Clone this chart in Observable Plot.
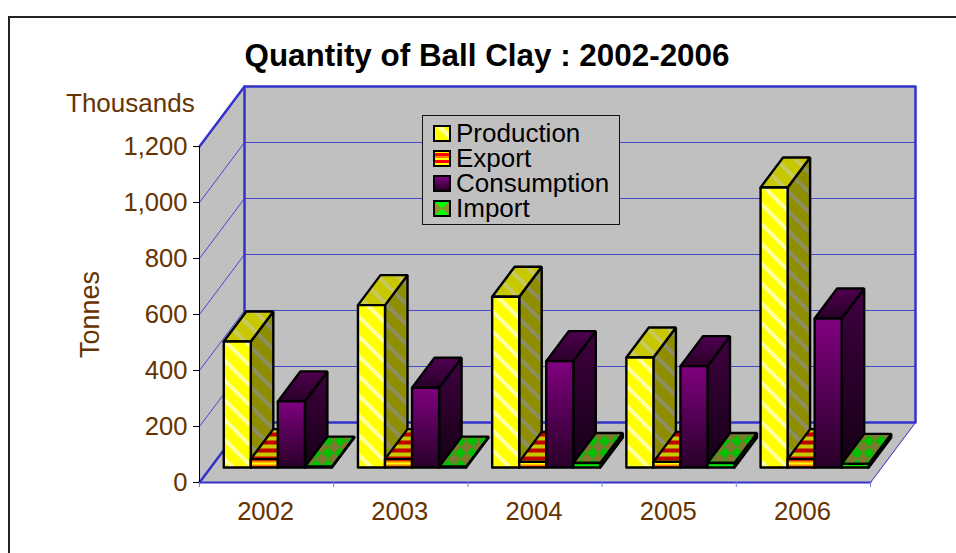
<!DOCTYPE html>
<html>
<head>
<meta charset="utf-8">
<script src="https://cdn.jsdelivr.net/npm/d3@7"></script>
<script src="https://cdn.jsdelivr.net/npm/@observablehq/plot@0.6"></script>
<style>
html,body{margin:0;padding:0;background:#fff;}
#page{position:relative;width:956px;height:553px;overflow:hidden;font-family:"Liberation Sans",Arial,sans-serif;}
#frame{position:absolute;left:8px;top:16px;width:960px;height:560px;border:2px solid #222;box-sizing:border-box;}
#title{position:absolute;left:0;top:40px;width:974px;text-align:center;font-size:31.4px;font-weight:bold;color:#000;line-height:32px;}
#chart{position:absolute;left:0;top:0;}
#unit{position:absolute;left:66px;top:89px;font-size:26px;line-height:28px;color:#663300;}
#legend{position:absolute;left:422px;top:115px;width:198px;height:110px;box-sizing:border-box;border:1px solid #111;border-right-width:1.5px;border-bottom-width:1.5px;background:#c0c0c0;padding:5px 0 0 10px;}
.row{display:flex;align-items:center;height:25px;font-size:26px;color:#000;}
.row span{display:block;line-height:25px;height:25px;overflow:visible;}
.sw{width:14px;height:13px;border:2.5px solid #000;margin-right:5px;box-sizing:content-box;flex:none;}
.sw svg{display:block;}
</style>
</head>
<body>
<div id="page">
<div id="frame"></div>
<div id="title">Quantity of Ball Clay : 2002-2006</div>
<div id="chart"></div>
<div id="unit">Thousands</div>
<div id="legend"></div>
</div>
<script>
const years = ["2002","2003","2004","2005","2006"];
const seriesNames = ["Production","Export","Consumption","Import"];
const production = [450,580,610,393,1000];
const exportQty = [30,30,20,20,30];
const consumption = [236,285,380,362,532];
const importQty = [3,3,16,16,13];
const seriesValues = [production,exportQty,consumption,importQty];
const yTicks = [0,200,400,600,800,1000,1200];
const patterns = ["prod","exp","cons","imp"];

// Depth of the whole chart box, in scale units (categories across, thousand tonnes up)
const depthX = 0.3353, depthY = 214.3;
// Bars stand at 1/4 of the way into the box, and are 1/2 of the box deep
const barInsetX = depthX/4, barInsetY = depthY/4;
const barDepthX = depthX/2, barDepthY = depthY/2;
const gap = 0.097, barW = (1-2*gap)/4;

const polys = [];
function poly(id, fill, pts){
  pts.concat([pts[0]]).forEach(([x,y]) => polys.push({id, fill, x, y}));
}
years.forEach((yr,i) => {
  seriesNames.forEach((s,k) => {
    const v = seriesValues[k][i], p = patterns[k];
    const x0 = i + gap + k*barW + barInsetX, x1 = x0 + barW;
    const y0 = barInsetY, y1 = barInsetY + v;
    const dx = barDepthX, dy = barDepthY;
    poly(`${yr}-${s}-side`, `url(#${p}-side)`, [[x1,y0],[x1+dx,y0+dy],[x1+dx,y1+dy],[x1,y1]]);
    poly(`${yr}-${s}-top`, `url(#${p}-top)`, [[x0,y1],[x1,y1],[x1+dx,y1+dy],[x0+dx,y1+dy]]);
    poly(`${yr}-${s}-front`, `url(#${p}-front)`, [[x0,y0],[x1,y0],[x1,y1],[x0,y1]]);
  });
});

// Chart box outlines
const n = years.length;
const wall = [[depthX,depthY],[n+depthX,depthY],[n+depthX,1200+depthY],[depthX,1200+depthY]];
const sideWall = [[0,0],[depthX,depthY],[depthX,1200+depthY],[0,1200]];
const floor = [[0,0],[n,0],[n+depthX,depthY],[depthX,depthY]];
const box = [];
[["wall",wall],["side",sideWall],["floor",floor]].forEach(([id,pts]) =>
  pts.concat([pts[0]]).forEach(([x,y]) => box.push({id,x,y})));
const grid = [];
yTicks.slice(1).forEach(t => {
  grid.push({id:t,x:0,y:t},{id:t,x:depthX,y:t+depthY},{id:t,x:n+depthX,y:t+depthY});
});
const blue = "#3333cc", brown = "#663300";
const SVGNS = "http://www.w3.org/2000/svg";

function stripe(id, size, base, light, w, angle){
  return `<pattern id="${id}" patternUnits="userSpaceOnUse" width="${size}" height="${size}" patternTransform="rotate(${angle})">
    <rect width="${size}" height="${size}" fill="${base}"/><rect width="${w}" height="${size}" fill="${light}"/></pattern>`;
}
function bands(id, cols, h, shift){
  return `<pattern id="${id}" patternUnits="userSpaceOnUse" width="8" height="${h*cols.length}" patternTransform="translate(0,${shift})">`+
    cols.map((c,i)=>`<rect y="${i*h}" width="8" height="${h}" fill="${c}"/>`).join("")+`</pattern>`;
}
function checks(id, a, b){
  return `<pattern id="${id}" patternUnits="userSpaceOnUse" width="17" height="17" patternTransform="translate(3,2) rotate(45)">
    <rect width="17" height="17" fill="${a}"/><rect width="8" height="8" fill="${b}"/><rect x="8.5" y="8.5" width="8" height="8" fill="${b}"/></pattern>`;
}
function grad(id, c0, c1){
  return `<linearGradient id="${id}" x1="0" y1="0" x2="0" y2="1"><stop offset="0" stop-color="${c0}"/><stop offset="1" stop-color="${c1}"/></linearGradient>`;
}
const defsContent = [
  stripe("prod-front",14,"#ffff00","#ffffa0",4,-45),
  stripe("prod-top",14,"#c8c800","#c8c860",4,-45),
  stripe("prod-side",14,"#8e8e00","#8e8e60",4,-45),
  bands("exp-front",["#ffff00","#ff8000","#ff0000","#ff8000"],2,6),
  bands("exp-top",["#c00000","#c8c800"],4,0),
  bands("exp-side",["#800000","#808000"],4,0),
  grad("cons-front","#800080","#280028"),
  grad("cons-top","#500050","#280028"),
  grad("cons-side","#400040","#140014"),
  grad("imp-front","#00ff00","#00e000"),
  checks("imp-top","#7a7a30","#00c000"),
  checks("imp-side","#505020","#008000")
].join("");

const defsMark = () => {
  const g = document.createElementNS(SVGNS,"defs");
  g.innerHTML = defsContent;
  return g;
};

const chart = Plot.plot({
  width: 956, height: 553,
  marginLeft: 199, marginRight: 41, marginTop: 86, marginBottom: 71,
  style: {background:"transparent", fontFamily:"'Liberation Sans',Arial,sans-serif", overflow:"visible"},
  x: {type:"linear", domain:[0,n+depthX], axis:null},
  y: {type:"linear", domain:[0,1200+depthY], axis:null},
  color: {type:"identity"},
  marks: [
    defsMark,
    Plot.line(box, {x:"x", y:"y", z:"id", fill:"#c0c0c0", stroke:"#c0c0c0", strokeWidth:1}),
    Plot.line(grid, {x:"x", y:"y", z:"id", stroke:blue, strokeWidth:1, strokeOpacity:0.85}),
    // heavy edges of the box
    Plot.line([[depthX,depthY],[depthX,1200+depthY],[n+depthX,1200+depthY],[n+depthX,depthY],[depthX,depthY],[0,0]], {x:d=>d[0], y:d=>d[1], stroke:blue, strokeWidth:2.5}),
    Plot.line([[0,1200],[depthX,1200+depthY]], {x:d=>d[0], y:d=>d[1], stroke:blue, strokeWidth:2.5}),
    Plot.line([[0,0],[n,0]], {x:d=>d[0], y:d=>d[1], stroke:blue, strokeWidth:2}),
    Plot.line([[n,0],[n+depthX,depthY]], {x:d=>d[0], y:d=>d[1], stroke:blue, strokeWidth:1}),
    Plot.line(polys, {x:"x", y:"y", z:"id", fill:"fill", stroke:"#000", strokeWidth:2.4, strokeLinejoin:"miter"}),
    // axes
    Plot.ruleX([0], {y1:0, y2:1200, stroke:"#000", strokeWidth:1}),
    Plot.axisY({ticks:yTicks, tickSize:6, tickPadding:6, stroke:"#000", tickFormat:d3.format(","), fontSize:25.6, color:brown, label:null, anchor:"left"}),
    Plot.axisX({ticks:d3.range(n+1), tickSize:5, tickFormat:()=>"", stroke:"#7a7ae0", label:null, anchor:"bottom"}),
    Plot.text(years, {x:(d,i)=>i+0.5, y:0, text:d=>d, dy:29, dx:-1, fontSize:25.6, fill:brown}),
    Plot.text(["Tonnes"], {x:0, y:600, dx:-109, rotate:-90, fontSize:27, fill:brown})
  ]
});
document.getElementById("chart").appendChild(chart);

const legend = document.getElementById("legend");
seriesNames.forEach((s,k) => {
  const row = document.createElement("div"); row.className="row";
  const sw = document.createElement("div"); sw.className="sw";
  const fills = [
    `<rect width="14" height="13" fill="#ffff00"/><path d="M2 0 L8 0 L14 7 L14 12 Z" fill="#ffffb0"/>`,
    `<rect width="14" height="13" fill="#ffff00"/><rect y="1" width="14" height="3" fill="#ff0000"/><rect y="4" width="14" height="2" fill="#ff8000"/><rect y="8" width="14" height="3" fill="#ff0000"/>`,
    `<rect width="14" height="13" fill="url(#cons-front)"/>`,
    `<rect width="14" height="13" fill="#8f8f30"/><path d="M0 0 L14 0 L7 6.5 L14 13 L0 13 L7 6.5 Z" fill="#00ff00"/>`
  ];
  sw.innerHTML = `<svg width="14" height="13">${fills[k]}</svg>`;
  row.appendChild(sw);
  const t = document.createElement("span"); t.textContent = s; row.appendChild(t);
  legend.appendChild(row);
});
</script>
</body>
</html>
